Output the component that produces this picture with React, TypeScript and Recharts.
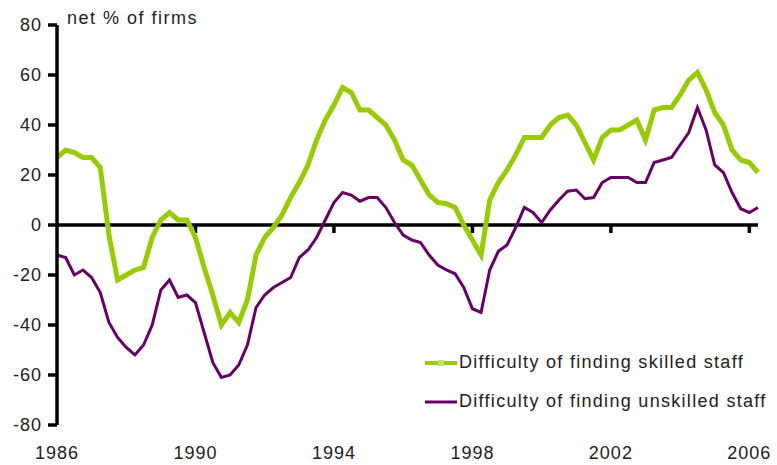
import React from 'react';
import { LineChart, Line, XAxis, YAxis, ReferenceLine, Legend } from 'recharts';

// quarterly survey balances, 1986 Q1 - 2006 Q2
const firstYear = 1986;

const skilled = [
  27, 30, 29, 27, 27, 23, -4, -22, -20, -18, -17, -5, 2, 5, 2, 2,
  -5, -17, -28, -40, -35, -39, -30, -12, -5, -1, 4, 11, 17, 24, 34, 42,
  48, 55, 53, 46, 46, 43, 40, 34, 26, 24, 18, 12, 9, 8.5, 7, 0,
  -6, -12, 10, 17, 22, 28, 35, 35, 35, 40, 43, 44, 40, 33, 26, 35,
  38, 38, 40, 42, 34, 46, 47, 47, 52, 58, 61, 54, 45, 40, 30, 26,
  25, 21,
];

const unskilled = [
  -12, -13, -20, -18, -21, -27, -39, -45, -49, -52, -48, -40, -26, -22, -29, -28,
  -31, -43, -55, -61, -60, -56, -48, -33, -28, -25, -23, -21, -13, -10, -5, 2,
  9, 13, 12, 9.5, 11, 11, 7, 1, -4, -6, -7, -12, -16, -18, -19.5, -25,
  -33.5, -35, -18, -10.5, -8, -1, 7, 5, 1, 6, 10, 13.5, 14, 10.5, 11, 17,
  19, 19, 19, 17, 17, 25, 26, 27, 32, 37, 47, 38, 24, 21, 13, 6.5,
  5, 7,
];

const yTicks = [-80, -60, -40, -20, 0, 20, 40, 60, 80];
const xTicks = [1986, 1990, 1994, 1998, 2002, 2006];
const zeroTicks = [1990, 1994, 1998, 2002, 2006];

const data = skilled.map((v, i) => ({
  t: firstYear + i / 4,
  skilled: v,
  unskilled: unskilled[i],
}));

const GREEN = '#99cc00';
const PURPLE = '#660066';
const FONT = '"Liberation Sans", Arial, sans-serif';

const LegendBox = ({ payload }: any) => (
  <div style={{ fontFamily: FONT, fontSize: 18, letterSpacing: 1.3, color: '#222' }}>
    {(payload || []).map((entry: any) => (
      <div key={entry.value} style={{ display: 'flex', alignItems: 'center', height: 39 }}>
        <svg width={32} height={10} style={{ marginRight: 2 }}>
          <line x1={0} y1={5} x2={32} y2={5} stroke={entry.color} strokeWidth={entry.color === GREEN ? 4 : 3} />
          {entry.color === GREEN && <rect x={13} y={2} width={6} height={6} fill="#c4e36a" />}
        </svg>
        <span>{entry.value}</span>
      </div>
    ))}
  </div>
);

export default function App() {
  return (
    <div style={{ position: 'relative', width: 777, height: 465, background: '#fff' }}>
      <style>{'body{margin:0}'}</style>
      <div
        style={{
          position: 'absolute',
          left: 67,
          top: 8,
          fontFamily: FONT,
          fontSize: 18,
          letterSpacing: 1.5,
          color: '#222',
          zIndex: 2,
        }}
      >
        net % of firms
      </div>
      <LineChart width={777} height={465} data={data} margin={{ top: 25, right: 19, bottom: 0, left: 0 }}>
        <YAxis
          domain={[-80, 80]}
          ticks={yTicks}
          width={57}
          axisLine={{ stroke: '#000', strokeWidth: 3.5 }}
          tickLine={{ stroke: '#000', strokeWidth: 3.5 }}
          tickSize={9}
          tickMargin={6}
          tick={{ fill: '#222', fontSize: 18, fontFamily: FONT, letterSpacing: 1 }}
          interval={0}
        />
        <XAxis
          dataKey="t"
          type="number"
          domain={[1986, 2006.25]}
          ticks={xTicks}
          height={40}
          axisLine={false}
          tickLine={false}
          tickSize={6}
          tickMargin={15}
          tick={{ fill: '#222', fontSize: 18, fontFamily: FONT, letterSpacing: 1 }}
          interval={0}
        />
        {zeroTicks.map((yr) => (
          <ReferenceLine
            key={yr}
            segment={[{ x: yr, y: 0 }, { x: yr, y: -3.2 }]}
            stroke="#000"
            strokeWidth={3.5}
          />
        ))}
        <ReferenceLine y={0} stroke="#000" strokeWidth={3.5} />
        <Line
          dataKey="skilled"
          name="Difficulty of finding skilled staff"
          stroke={GREEN}
          strokeWidth={5}
          dot={false}
          type="linear"
          isAnimationActive={false}
        />
        <Line
          dataKey="unskilled"
          name="Difficulty of finding unskilled staff"
          stroke={PURPLE}
          strokeWidth={3}
          dot={false}
          type="linear"
          isAnimationActive={false}
        />
        <Legend
          layout="vertical"
          align="center"
          verticalAlign="middle"
          content={<LegendBox />}
          wrapperStyle={{ left: 425, top: 343, width: 360 }}
        />
      </LineChart>
    </div>
  );
}
